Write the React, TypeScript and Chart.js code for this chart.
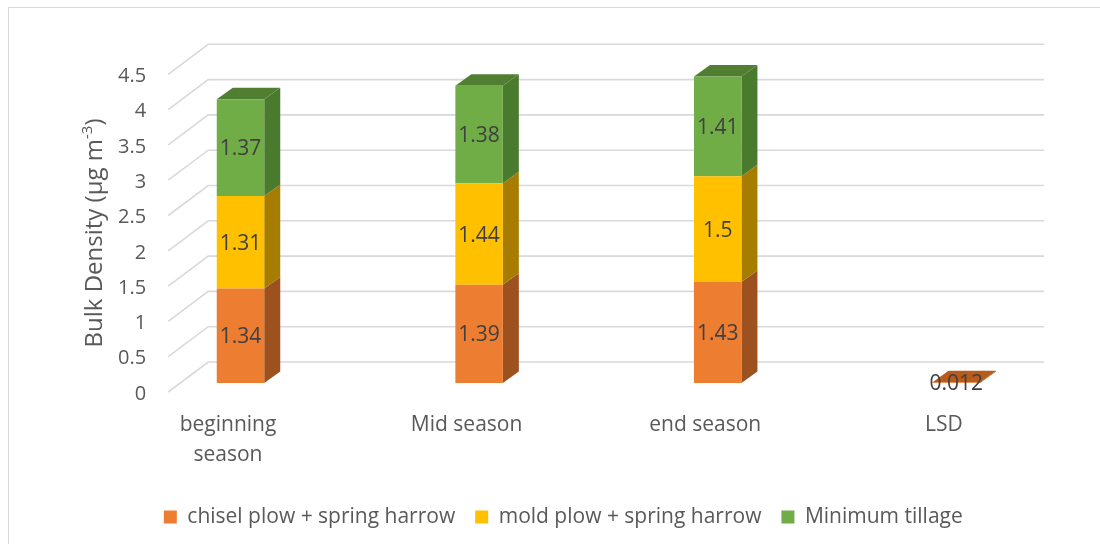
import React, { useEffect, useRef } from "react";
import { Chart, registerables } from "chart.js";

Chart.register(...registerables);

// Sampling dates on the category axis
const categories: (string | string[])[] = [["beginning", "season"], "Mid season", "end season", "LSD"];

// Bulk density per tillage system (LSD only has a single value)
const chiselPlowSpringHarrow: (number | null)[] = [1.34, 1.39, 1.43, 0.012];
const moldPlowSpringHarrow: (number | null)[] = [1.31, 1.44, 1.5, null];
const minimumTillage: (number | null)[] = [1.37, 1.38, 1.41, null];

const seriesNames = ["chisel plow + spring harrow", "mold plow + spring harrow", "Minimum tillage"];

// Value axis range
const yMin = 0;
const yMax = 4.5;
const yStep = 0.5;

const axisTitle = "Bulk Density (µg m";
const axisTitleSup = "-3";

// Face colours for the 3D columns: front, side, top
const faceColors = [
  { front: "#ED7D31", side: "#9C511E", top: "#B85C1E" },
  { front: "#FFC000", side: "#A67D00", top: "#B98C00" },
  { front: "#70AD47", side: "#4A7A2E", top: "#507F31" },
];

const FONT = "'Open Sans', 'Noto Sans', sans-serif";
const TEXT = "#595959";
const LABEL = "#404040";
const GRID = "#D9D9D9";

// Depth of the columns and of the chart box, in pixels
const BAR_DX = 16;
const BAR_DY = -11.5;
const FRONT_DY = 9;
const BACK_DY = -21;

const threeD = {
  id: "threeD",
  beforeDatasetsDraw(chart: any) {
    const { ctx, chartArea, scales } = chart;
    const y = scales.y;
    const frontX = chartArea.left + 47;
    const backLeft = chartArea.left + 87;
    const backRight = chartArea.right - 31.5;

    ctx.save();
    // back wall gridlines and the side-wall diagonals
    ctx.strokeStyle = GRID;
    ctx.lineWidth = 1.6;
    y.ticks.forEach((t: any) => {
      const py = y.getPixelForValue(t.value);
      ctx.beginPath();
      ctx.moveTo(frontX, py + FRONT_DY);
      ctx.lineTo(backLeft, py + BACK_DY);
      ctx.lineTo(backRight, py + BACK_DY);
      ctx.stroke();
    });

    // value-axis tick labels on the front edge of the side wall
    ctx.font = `20px ${FONT}`;
    ctx.fillStyle = TEXT;
    ctx.textAlign = "right";
    ctx.textBaseline = "middle";
    y.ticks.forEach((t: any) => {
      const py = y.getPixelForValue(t.value);
      ctx.fillText(String(t.value), frontX - 22, py + 11);
    });

    // side and top faces of each stacked segment
    const n = chart.data.labels.length;
    for (let i = 0; i < n; i++) {
      let topIdx = -1;
      chart.data.datasets.forEach((ds: any, d: number) => {
        if (ds.data[i] != null) topIdx = d;
      });
      chart.data.datasets.forEach((ds: any, d: number) => {
        if (ds.data[i] == null) return;
        const el = chart.getDatasetMeta(d).data[i];
        const left = el.x - el.width / 2;
        const right = el.x + el.width / 2;
        const c = faceColors[d];
        if (d === topIdx) {
          ctx.fillStyle = c.top;
          ctx.beginPath();
          ctx.moveTo(left, el.y);
          ctx.lineTo(left + BAR_DX, el.y + BAR_DY);
          ctx.lineTo(right + BAR_DX, el.y + BAR_DY);
          ctx.lineTo(right, el.y);
          ctx.closePath();
          ctx.fill();
        }
        ctx.fillStyle = c.side;
        ctx.beginPath();
        ctx.moveTo(right, el.y);
        ctx.lineTo(right + BAR_DX, el.y + BAR_DY);
        ctx.lineTo(right + BAR_DX, el.base + BAR_DY);
        ctx.lineTo(right, el.base);
        ctx.closePath();
        ctx.fill();
      });
    }
    ctx.restore();
  },
  afterDatasetsDraw(chart: any) {
    const { ctx } = chart;
    ctx.save();
    // value labels in the middle of each front face
    ctx.font = `21px ${FONT}`;
    ctx.fillStyle = LABEL;
    ctx.textAlign = "center";
    ctx.textBaseline = "middle";
    chart.data.datasets.forEach((ds: any, d: number) => {
      const meta = chart.getDatasetMeta(d);
      ds.data.forEach((v: number | null, i: number) => {
        if (v == null) return;
        const el = meta.data[i];
        ctx.fillText(String(v), el.x, (el.y + el.base) / 2 + 1.5);
      });
    });

    // rotated value-axis title with a superscript exponent
    const cx = 93;
    const cy = 233;
    ctx.translate(cx, cy);
    ctx.rotate(-Math.PI / 2);
    ctx.fillStyle = TEXT;
    ctx.textAlign = "left";
    ctx.textBaseline = "alphabetic";
    const mainFont = `24px ${FONT}`;
    const supFont = `15px ${FONT}`;
    ctx.font = mainFont;
    const w1 = ctx.measureText(axisTitle).width;
    const w3 = ctx.measureText(")").width;
    ctx.font = supFont;
    const w2 = ctx.measureText(axisTitleSup).width;
    const total = w1 + w2 + w3;
    let x = -total / 2;
    const base = 8.5;
    ctx.font = mainFont;
    ctx.fillText(axisTitle, x, base);
    x += w1;
    ctx.font = supFont;
    ctx.fillText(axisTitleSup, x, base - 10);
    x += w2;
    ctx.font = mainFont;
    ctx.fillText(")", x, base);
    ctx.restore();
  },
};

export default function App() {
  const canvasRef = useRef<HTMLCanvasElement | null>(null);

  useEffect(() => {
    const canvas = canvasRef.current;
    if (!canvas) return;
    const series = [chiselPlowSpringHarrow, moldPlowSpringHarrow, minimumTillage];
    const chart = new Chart(canvas, {
      type: "bar",
      data: {
        labels: categories,
        datasets: series.map((data, d) => ({
          label: seriesNames[d],
          data,
          backgroundColor: faceColors[d].front,
          borderWidth: 0,
          categoryPercentage: 1,
          barPercentage: 0.199,
        })),
      },
      options: {
        responsive: false,
        animation: false,
        layout: { padding: { left: 51, right: 24.4, top: 65.3, bottom: 6.5 } },
        scales: {
          x: {
            stacked: true,
            grid: { display: false, drawTicks: false },
            border: { display: false },
            ticks: {
              color: TEXT,
              font: { family: FONT, size: 21, lineHeight: "30px" },
              padding: 27,
              labelOffset: -12.5,
              maxRotation: 0,
              autoSkip: false,
            },
            afterFit: (s: any) => {
              s.height = 103.5;
            },
          },
          y: {
            stacked: true,
            min: yMin,
            max: yMax,
            grid: { display: false, drawTicks: false },
            border: { display: false },
            ticks: { stepSize: yStep, display: false },
            afterFit: (s: any) => {
              s.width = 70.2;
            },
          },
        },
        plugins: {
          legend: {
            position: "bottom",
            labels: {
              color: TEXT,
              font: { family: FONT, size: 21 },
              boxWidth: 13,
              boxHeight: 13,
              padding: 20,
            },
          },
          tooltip: { enabled: false },
        },
      },
      plugins: [threeD],
    } as any);
    return () => chart.destroy();
  }, []);

  return (
    <div style={{ position: "fixed", left: 0, top: 0, width: 1100, height: 544, background: "#fff" }}>
      <div
        style={{
          position: "absolute",
          left: 8,
          top: 7,
          width: 1100,
          height: 545,
          border: "1px solid #D9D9D9",
        }}
      />
      <canvas
        ref={canvasRef}
        width={1100}
        height={544}
        style={{ position: "absolute", left: 0, top: 0, display: "block" }}
      />
    </div>
  );
}
